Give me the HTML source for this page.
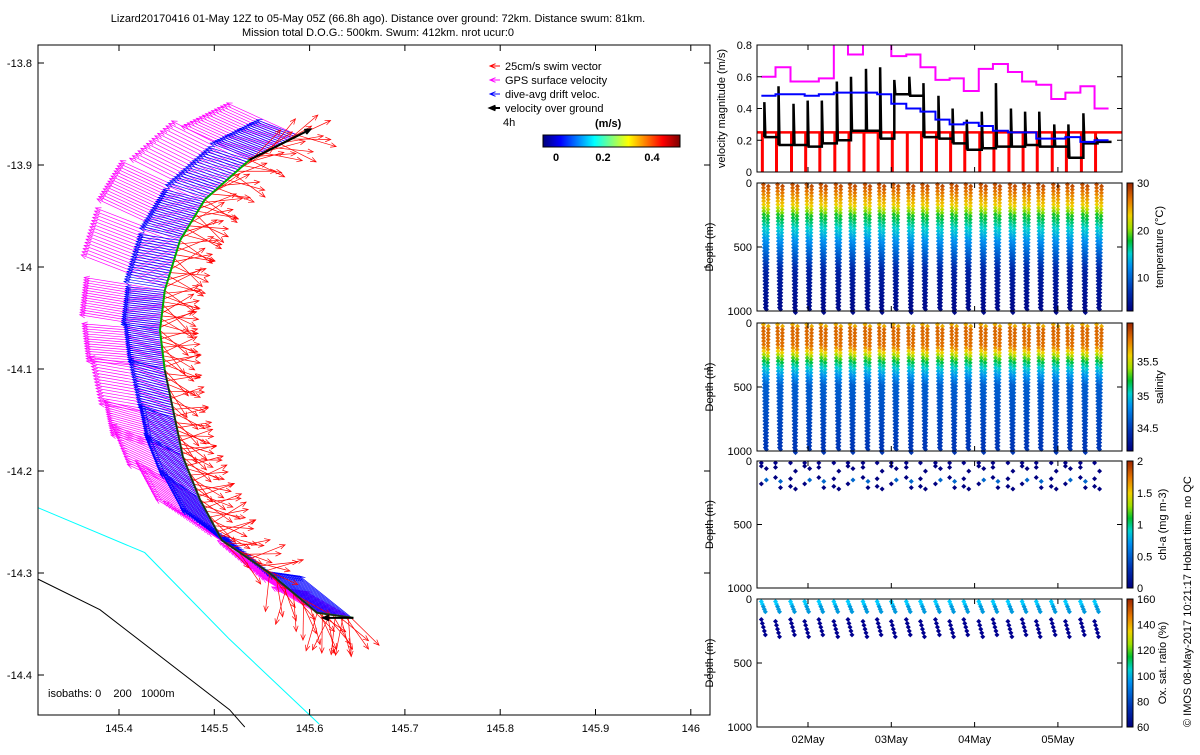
<!DOCTYPE html>
<html><head><meta charset="utf-8"><style>
body{margin:0;background:#fff;}
svg{font-family:"Liberation Sans",sans-serif;font-size:11px;}
</style></head><body>
<svg id="s" width="1200" height="750" xmlns="http://www.w3.org/2000/svg">
<rect width="1200" height="750" fill="#fff"/>
<text x="378" y="22" text-anchor="middle">Lizard20170416 01-May 12Z to 05-May 05Z (66.8h ago). Distance over ground: 72km. Distance swum: 81km.</text>
<text x="378" y="36" text-anchor="middle">Mission total D.O.G.: 500km. Swum: 412km. nrot ucur:0</text>
<g id="map"></g>
<g id="panels"></g>
<text transform="translate(1191,727) rotate(-90)">© IMOS 08-May-2017 10:21:17 Hobart time. no QC</text>
</svg>
<script>
// ---- map data ----
const trackLon=[145.588,145.537,145.490,145.464,145.448,145.443,145.448,145.459,145.467,145.485,145.508,145.558,145.608,145.646];
const trackLat=[-13.871,-13.895,-13.934,-13.974,-14.023,-14.062,-14.101,-14.150,-14.186,-14.228,-14.268,-14.300,-14.339,-14.344];
const driftU=[-0.32,-0.32,-0.32,-0.32,-0.30,-0.28,-0.28,-0.28,-0.30,-0.30,-0.32,-0.35,-0.40,-0.40];
const driftV=[0.12,0.10,0.08,0.05,0.03,0.05,0.08,0.12,0.18,0.22,0.25,0.28,0.32,0.35];
const gpsU=[-0.55,-0.60,-0.65,-0.65,-0.62,-0.60,-0.58,-0.55,-0.55,-0.50,-0.45,-0.40,-0.35,-0.30];
const gpsV=[0.25,0.30,0.30,0.25,0.10,0.05,0.10,0.15,0.25,0.30,0.30,0.25,0.20,0.15];
const swimU=[0.30,0.30,0.30,0.30,0.28,0.28,0.25,0.25,0.28,0.30,0.28,0.10,0.05,0.05];
const swimV=[0.05,0.00,-0.05,-0.05,-0.05,-0.08,-0.10,-0.10,-0.08,-0.05,-0.10,-0.28,-0.30,-0.30];
const cyanLon=[145.315,145.427,145.516,145.610];
const cyanLat=[-14.236,-14.280,-14.365,-14.448];
const blackLon=[145.315,145.380,145.516,145.532];
const blackLat=[-14.306,-14.336,-14.434,-14.451];
const xTicks=[145.4,145.5,145.6,145.7,145.8,145.9,146];
const yTicks=[-13.8,-13.9,-14,-14.1,-14.2,-14.3,-14.4];
// ---- panel data ----
const diveT=[1.44,1.61,1.79,1.96,2.13,2.31,2.48,2.66,2.83,3.0,3.18,3.35,3.53,3.70,3.87,4.05,4.22,4.40,4.57,4.74,4.92,5.09,5.27,5.44];
const blackPeak=[0.44,0.54,0.43,0.45,0.45,0.57,0.60,0.65,0.66,0.58,0.60,0.56,0.48,0.40,0.33,0.38,0.56,0.40,0.38,0.38,0.30,0.30,0.37,0.20];
const blackBase=[0.22,0.17,0.17,0.16,0.18,0.20,0.26,0.26,0.21,0.49,0.48,0.22,0.21,0.18,0.14,0.15,0.16,0.16,0.17,0.16,0.16,0.09,0.18,0.19];
const gpsMag=[0.60,0.66,0.57,0.57,0.59,0.85,0.74,0.85,0.85,0.73,0.74,0.66,0.58,0.59,0.51,0.65,0.68,0.63,0.57,0.55,0.46,0.50,0.54,0.40];
const driftMag=[0.48,0.49,0.49,0.48,0.49,0.50,0.50,0.50,0.49,0.43,0.40,0.38,0.33,0.30,0.31,0.29,0.26,0.25,0.25,0.21,0.21,0.22,0.19,0.20];
const maxDepth=[980,990,1000,990,1000,990,1000,990,1000,990,1000,990,990,1000,990,1000,990,1000,990,980,1000,990,1000,990];
// profile colour levels (depth -> colormap fraction)
const tempDepths=[0,170,250,350,500,700,1000];
const tempLevels=[0.95,0.75,0.56,0.45,0.3,0.1,0.03];
const salDepths=[0,40,180,230,290,360,480,1000];
const salLevels=[0.75,0.9,0.88,0.72,0.55,0.42,0.25,0.16];
const chlDepth=[40,60,120,150,180,200];
const oxShallow=[20,40,60,80,100];
const oxDeep=[160,190,220,250,280];
const dayTicks=[2,3,4,5];
const dayLabels=['02May','03May','04May','05May'];

const NS='http://www.w3.org/2000/svg';
function el(p,tag,at){const e=document.createElementNS(NS,tag);for(const k in at)e.setAttribute(k,at[k]);p.appendChild(e);return e;}
function jet(v){v=Math.max(0,Math.min(1,v));const r=Math.max(0,Math.min(1,1.5-Math.abs(4*v-3))),g=Math.max(0,Math.min(1,1.5-Math.abs(4*v-2))),b=Math.max(0,Math.min(1,1.5-Math.abs(4*v-1)));return `rgb(${r*255|0},${g*255|0},${b*255|0})`;}
const cmStops=[0,0.15,0.35,0.45,0.55,0.65,0.75,0.87,1];
const cmCols=[[0,0,128],[0,48,176],[0,144,240],[0,208,208],[0,192,48],[160,224,0],[240,208,0],[230,120,0],[160,40,0]];
function cmap(v){v=Math.max(0,Math.min(1,v));let i=0;while(i<cmStops.length-2&&v>cmStops[i+1])i++;const f=(v-cmStops[i])/(cmStops[i+1]-cmStops[i]);const a=cmCols[i],b=cmCols[i+1];return `rgb(${a.map((c,k)=>Math.round(c+(b[k]-c)*f)).join(',')})`;}
function lerp(xs,ys,x){for(let i=0;i<xs.length-1;i++)if(x<=xs[i+1])return ys[i]+(ys[i+1]-ys[i])*(x-xs[i])/(xs[i+1]-xs[i]);return ys[ys.length-1];}
const map=document.getElementById('map');
const X=lon=>119+(lon-145.4)*953, Y=lat=>165-(lat+13.9)*1020;
const S=130;
function poly(lons,lats,col,name){const l=el(map,'polyline',{points:lons.map((v,i)=>X(v)+','+Y(lats[i])).join(' '),fill:'none',stroke:col,'stroke-width':1});

}
poly(cyanLon,cyanLat,'#0ff','isobath-200');
poly(blackLon,blackLat,'#000','isobath-1000');
function arrow(x,y,dx,dy,col,w){const g=el(map,'g',{stroke:col,'stroke-width':w,fill:'none'});
el(g,'line',{x1:x,y1:y,x2:x+dx,y2:y+dy});const a=Math.atan2(dy,dx),h=6;
el(g,'polyline',{points:`${x+dx-h*Math.cos(a-0.4)},${y+dy-h*Math.sin(a-0.4)} ${x+dx},${y+dy} ${x+dx-h*Math.cos(a+0.4)},${y+dy-h*Math.sin(a+0.4)}`});return g;}
const spread=[-0.5,0.3,-0.2,0.6,0.0,-0.7,0.4,-0.3,0.8,0.1,-0.4,0.5,-0.1,0.7,-0.6,0.2];
const layers=[[gpsU,gpsV,'#f0f',0,'gps-vector',16],[driftU,driftV,'#00f',0,'drift-vector',20],[swimU,swimV,'#f00',1,'swim-vector',14]];
for(const [U,V,col,jit,name,n] of layers){
 for(let i=0;i<trackLon.length-1;i++){
  for(let k=0;k<n;k++){const f=k/n;
   const x=X(trackLon[i]+(trackLon[i+1]-trackLon[i])*f),y=Y(trackLat[i]+(trackLat[i+1]-trackLat[i])*f);
   let u=U[i],v=V[i];
   if(jit){const a=spread[k]*0.9,c=Math.cos(a),s=Math.sin(a);[u,v]=[u*c-v*s,u*s+v*c];}
   const g=arrow(x,y,u*S,-v*S,col,0.7);
   
   
  }}
}
const tr=el(map,'polyline',{points:trackLon.map((v,i)=>X(v)+','+Y(trackLat[i])).join(' '),fill:'none',stroke:'#0a0','stroke-width':2});


const tr2=el(map,'polyline',{points:trackLon.slice(6).map((v,i)=>X(v)+','+Y(trackLat[i+6])).join(' '),fill:'none',stroke:'#222','stroke-width':1.5});


arrow(X(trackLon[1]),Y(trackLat[1]),X(trackLon[0])-X(trackLon[1])+12,Y(trackLat[0])-Y(trackLat[1])-6,'#000',2);
arrow(X(trackLon[13]),Y(trackLat[13]),-30,0,'#000',2);
el(map,'rect',{x:38,y:45,width:672,height:670,fill:'none',stroke:'#000','stroke-width':1});
xTicks.forEach(t=>{const x=X(t);el(map,'line',{x1:x,y1:715,x2:x,y2:709,stroke:'#000'});el(map,'line',{x1:x,y1:45,x2:x,y2:51,stroke:'#000'});
 const tx=el(map,'text',{x:x,y:732,'text-anchor':'middle'});tx.textContent=String(t);
 
 });
yTicks.forEach(t=>{const y=Y(t);el(map,'line',{x1:38,y1:y,x2:44,y2:y,stroke:'#000'});el(map,'line',{x1:710,y1:y,x2:704,y2:y,stroke:'#000'});
 const tx=el(map,'text',{x:32,y:y+4,'text-anchor':'end'});tx.textContent=String(t);
 
 });
const iso=el(map,'text',{x:48,y:697,style:'white-space:pre'});iso.textContent='isobaths: 0    200   1000m';


const leg=[['#f00','25cm/s swim vector'],['#f0f','GPS surface velocity'],['#00f','dive-avg drift veloc.'],['#000','velocity over ground']];
leg.forEach((l,i)=>{const y=66+i*14;arrow(500,y,-10,0,l[0],i==3?2:1);const t=el(map,'text',{x:505,y:y+4});t.textContent=l[1];
 
 });
const t4=el(map,'text',{x:503,y:126});t4.textContent='4h';
const tms=el(map,'text',{x:595,y:127,'font-weight':'bold'});tms.textContent='(m/s)';
for(let i=0;i<137;i++)el(map,'rect',{x:543+i,y:135,width:1.2,height:12,fill:jet(i/136)});
el(map,'rect',{x:543,y:135,width:137,height:12,fill:'none',stroke:'#000'});
[[0,556],[0.2,603],[0.4,652]].forEach(([v,x])=>{const t=el(map,'text',{x:x,y:161,'text-anchor':'middle','font-weight':'bold'});t.textContent=String(v);});

// ---- panels ----
const P=document.getElementById('panels');
const L=757,R=1122,T=t=>808+(t-2)*83.3;
const tops=[45,183,323,461,599],H=[127,128,128,127,128];
function frame(i,name){const r=el(P,'rect',{x:L,y:tops[i],width:R-L,height:H[i],fill:'none',stroke:'#000'});
 
 
 dayTicks.forEach((d,j)=>{const x=T(d);el(P,'line',{x1:x,y1:tops[i]+H[i],x2:x,y2:tops[i]+H[i]-5,stroke:'#000'});el(P,'line',{x1:x,y1:tops[i],x2:x,y2:tops[i]+5,stroke:'#000'});
  if(i==4){const t=el(P,'text',{x:x,y:743,'text-anchor':'middle'});t.textContent=dayLabels[j];
   
   }});}
function ylab(i,txt,x){const t=el(P,'text',{transform:`translate(${x},${tops[i]+H[i]/2}) rotate(-90)`,'text-anchor':'middle'});t.textContent=txt;
 
 }
const VY=v=>45+127-v/0.8*127;
function line(pts,col,w,name){const l=el(P,'polyline',{points:pts.map(p=>p.join(',')).join(' '),fill:'none',stroke:col,'stroke-width':w});
 
 }
line([[L,VY(0.25)],[R,VY(0.25)]],'#f00',2.5,'swim-speed-line');
diveT.forEach(t=>{const x=T(t)+1;const s=el(P,'line',{x1:x,y1:VY(0.25),x2:x,y2:VY(0),stroke:'#f00','stroke-width':3});
 
 });
function step(arr,col,w,name){const pts=[];arr.forEach((v,i)=>{const x0=T(diveT[i]),x1=i<arr.length-1?T(diveT[i+1]):T(diveT[i])+14;pts.push([x0,VY(Math.min(v,0.82))],[x1,VY(Math.min(v,0.82))]);});line(pts,col,w,name);}
step(gpsMag,'#f0f',2,'gps-speed-line');
const bk=[];blackBase.forEach((v,i)=>{const x0=T(diveT[i])+3,x1=i<23?T(diveT[i+1])+3:x0+14;bk.push([x0,VY(v)],[x0,VY(blackPeak[i])],[x0+1,VY(v)],[x1,VY(v)]);});
line(bk,'#000',2.5,'ground-speed-line');
step(driftMag,'#00f',2,'drift-speed-line');
el(P,'rect',{x:L,y:30,width:R-L,height:15,fill:'#fff'});
frame(0,'velocity-panel');
[0,0.2,0.4,0.6,0.8].forEach(v=>{const y=VY(v);el(P,'line',{x1:L,y1:y,x2:L+5,y2:y,stroke:'#000'});el(P,'line',{x1:R,y1:y,x2:R-5,y2:y,stroke:'#000'});
 const t=el(P,'text',{x:752,y:y+4,'text-anchor':'end'});t.textContent=String(v);});
ylab(0,'velocity magnitude (m/s)',725);
function depthAxis(i){[0,500,1000].forEach(d=>{const y=tops[i]+d/1000*H[i];el(P,'line',{x1:L,y1:y,x2:L+5,y2:y,stroke:'#000'});el(P,'line',{x1:R,y1:y,x2:R-5,y2:y,stroke:'#000'});
 const t=el(P,'text',{x:752,y:y+4,'text-anchor':'end'});t.textContent=String(d);});ylab(i,'Depth (m)',713);}
function pt(i,x,d,col){const y=tops[i]+d/1000*H[i];el(P,'path',{d:`M${x-2.5},${y}L${x},${y-2.5}L${x+2.5},${y}L${x},${y+2.5}Z`,fill:col});}
function colorbar(i,labels,name){const y0=tops[i],h=H[i];for(let k=0;k<h;k++)el(P,'rect',{x:1127,y:y0+h-k-1,width:6,height:1.2,fill:cmap(k/(h-1))});
 const r=el(P,'rect',{x:1127,y:y0,width:6,height:h,fill:'none',stroke:'#000'});
 
 
 labels.forEach(([txt,f])=>{const y=y0+h-f*h;const t=el(P,'text',{x:1137,y:y+4});t.textContent=txt;});}
for(let i=1;i<=2;i++){diveT.forEach((t,j)=>{const x=T(t)+2;for(let d=12;d<=maxDepth[j];d+=26){
 const f=i==1?lerp(tempDepths,tempLevels,d):lerp(salDepths,salLevels,d);
 pt(i,x+d/1000*2,d,cmap(f));pt(i,x+5-d/1000*2,d+13,cmap(f));}});
 frame(i,i==1?'temperature-panel':'salinity-panel');depthAxis(i);}
colorbar(1,[['10',0.26],['20',0.63],['30',1]],'temperature-colorbar');ylab(1,'temperature (°C)',1163);
colorbar(2,[['34.5',0.18],['35',0.43],['35.5',0.7]],'salinity-colorbar');ylab(2,'salinity',1163);
diveT.forEach((t,j)=>{const x=T(t);pt(3,x,15,'#00008b');chlDepth.forEach((d,k)=>{if((j+k)%3!=2)pt(3,x+(k%2)*5,d+(j%3)*10,k==3?'#06c':'#000080');});});
frame(3,'chlorophyll-panel');depthAxis(3);
colorbar(3,[['0',0],['0.5',0.25],['1',0.5],['1.5',0.75],['2',1]],'chl-colorbar');ylab(3,'chl-a (mg m-3)',1166);
diveT.forEach((t,j)=>{const x=T(t);oxShallow.forEach((d,k)=>pt(4,x+k,d,k<2?'#0cf':'#09d'));oxDeep.forEach((d,k)=>pt(4,x+k,d+(j%2)*15,'#000090'));});
frame(4,'oxygen-panel');depthAxis(4);
colorbar(4,[['60',0],['80',0.2],['100',0.4],['120',0.6],['140',0.8],['160',1]],'oxygen-colorbar');ylab(4,'Ox. sat. ratio (%)',1166);
</script>
</body></html>
